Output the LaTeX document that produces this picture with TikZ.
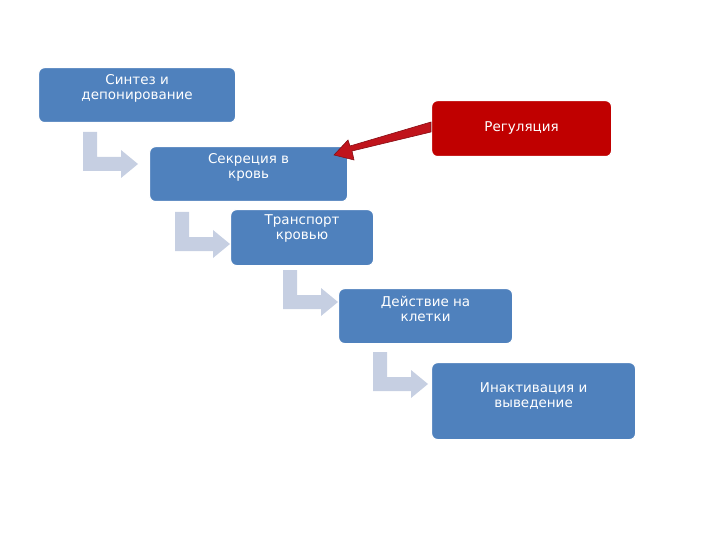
\documentclass[tikz,border=0pt]{standalone}
\usepackage{fontspec}
\setmainfont{DejaVu Sans}
\definecolor{boxblue}{HTML}{4F81BD}
\definecolor{boxred}{HTML}{C00000}
\definecolor{bendc}{HTML}{C6CFE2}
\definecolor{arrred}{HTML}{C0141C}
\begin{document}
\begin{tikzpicture}[x=1pt,y=-1pt,
  box/.style={draw=white,line width=1.2pt,rounded corners=6pt,fill=boxblue,text=white,font=\fontsize{13.5}{15}\selectfont,align=center,anchor=north west,inner sep=0pt},
  bend/.pic={\fill[bendc] (0,0)--(14,0)--(14,25)--(38,25)--(38,18)--(55,32)--(38,46)--(38,39)--(0,39)--cycle;}]
\useasboundingbox (0,0) rectangle (720,540);
\node[box,minimum width=197pt,minimum height=55pt] (a) at (38,67) {};
\node[text=white,font=\fontsize{13.5}{15}\selectfont,align=center,anchor=north] at (a.north) [yshift=-4pt] {Синтез и\\депонирование};
\node[box,fill=boxred,minimum width=180pt,minimum height=56pt] (r) at (431,100) {};
\node[text=white,font=\fontsize{13.5}{15}\selectfont,anchor=north] at (r.north) [yshift=-18pt] {Регуляция};
\node[box,minimum width=198pt,minimum height=55pt] (b) at (149,146) {};
\node[text=white,font=\fontsize{13.5}{15}\selectfont,align=center,anchor=north] at (b.north) [yshift=-4pt] {Секреция в\\кровь};
\node[box,minimum width=143pt,minimum height=56pt] (c) at (230,209) {};
\node[text=white,font=\fontsize{13.5}{15}\selectfont,align=center,anchor=north] at (c.north) [yshift=-2pt] {Транспорт\\кровью};
\node[box,minimum width=174pt,minimum height=55pt] (d) at (338,288) {};
\node[text=white,font=\fontsize{13.5}{15}\selectfont,align=center,anchor=north] at (d.north) [yshift=-5pt] {Действие на\\клетки};
\node[box,minimum width=204pt,minimum height=77pt] (e) at (431,362) {};
\node[text=white,font=\fontsize{13.5}{15}\selectfont,align=center,anchor=north] at (e.north) [yshift=-17pt] {Инактивация и\\выведение};
\pic at (83,132) {bend};
\pic at (175,212) {bend};
\pic at (283,270) {bend};
\pic at (373,352) {bend};
\coordinate (rs) at ([yshift=-2pt]r.west);
\coordinate (bt) at ([xshift=-12pt,yshift=10pt]b.north east);
\draw[draw=arrred!70!black,fill=arrred,line width=0.6pt]
  (431,122)--(431,132)--(352,151)--(354,160)--(334,155)--(348,140)--(350,146)--cycle;
\end{tikzpicture}
\end{document}
